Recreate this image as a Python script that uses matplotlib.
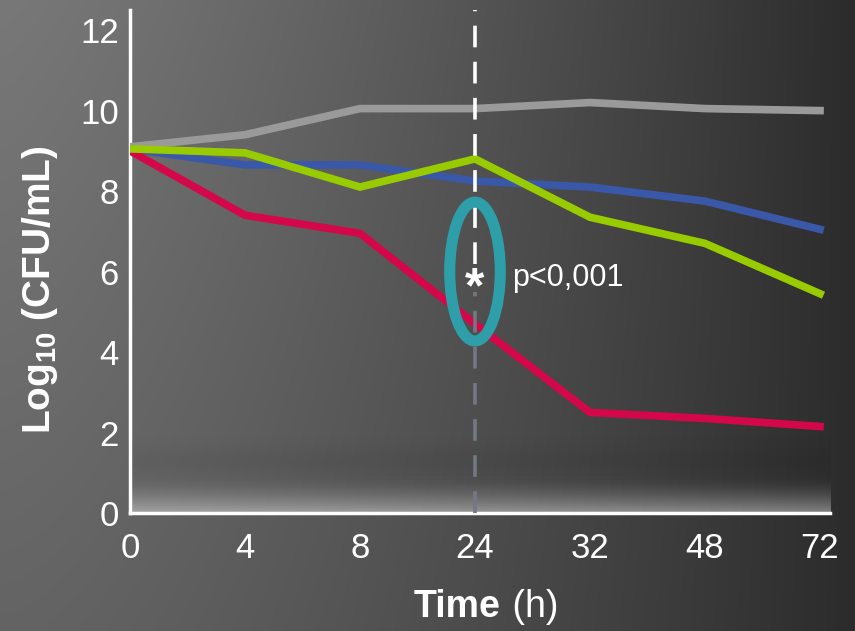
import numpy as np
import matplotlib
matplotlib.use("Agg")
import matplotlib.pyplot as plt
from matplotlib.patches import Ellipse

times = ["0", "4", "8", "24", "32", "48", "72"]
grey_series = [9.1, 9.4, 10.05, 10.05, 10.2, 10.05, 10.0]
blue_series = [9.05, 8.65, 8.65, 8.25, 8.1, 7.75, 7.05]
green_series = [9.05, 8.95, 8.1, 8.8, 7.35, 6.7, 5.45]
red_series = [9.0, 7.4, 6.95, 4.7, 2.5, 2.35, 2.15]
y_ticks = [0, 2, 4, 6, 8, 10, 12]

plt.rcParams['font.family'] = ['Liberation Sans', 'DejaVu Sans']
plt.rcParams['mathtext.fontset'] = 'custom'
plt.rcParams['mathtext.rm'] = 'Liberation Sans'
plt.rcParams['mathtext.it'] = 'Liberation Sans:italic'
plt.rcParams['mathtext.bf'] = 'Liberation Sans:bold'

W, H = 855, 631
fig = plt.figure(figsize=(W / 100, H / 100), dpi=100)

# background gradient
bg = fig.add_axes([0, 0, 1, 1], zorder=0)
xx = np.linspace(0, 1, 300)
yy = np.linspace(0, 1, 300)
X, Y = np.meshgrid(xx, yy)
val = 0.47 - 0.30 * X**1.3 - 0.08 * Y * (1 - X)
img = np.dstack([val, val, val])
bg.imshow(img, extent=(0, 1, 0, 1), aspect='auto', origin='upper')
bg.axis('off')

ax = fig.add_axes([130 / W, 1 - 513 / H, 700 / W, 503 / H], zorder=1)
ax.patch.set_alpha(0)

xs = np.arange(len(times))

# light band near bottom of plot area
n = 200
band = np.zeros((n, 1, 4))
for i in range(n):
    yv = 2.0 * i / (n - 1)
    if yv < 0.9:
        band[i, 0] = [1, 1, 1, 0.42 * (1 - yv / 0.9) ** 1.6]
    else:
        band[i, 0] = [0, 0, 0, 0.05 * np.exp(-((yv - 1.3) / 0.35) ** 2)]
ax.imshow(band, extent=(0, 6.087, 0, 2.0), origin='lower', aspect='auto', zorder=0.5)
ax.set_xlim(0, 6.087)
ax.set_ylim(0, 12.5)

lw = 5.5
ax.plot(xs, grey_series, color='#9a9a9a', lw=lw, solid_joinstyle='miter', zorder=3)
ax.plot(xs, blue_series, color='#3a58a8', lw=lw, solid_joinstyle='miter', zorder=3)
ax.plot(xs, red_series, color='#d4074a', lw=lw, solid_joinstyle='miter', zorder=4)
ax.plot(xs, green_series, color='#99cc00', lw=lw, solid_joinstyle='miter', zorder=5)

# dashed vertical line at 24 h
ax.plot([3, 3], [6.2, 12.5], color='white', lw=2.6, dashes=(6, 4), zorder=6)
ax.plot([3, 3], [0, 5.5], color='#727884', lw=2.6, dashes=(6, 4), zorder=6)

ell = Ellipse((3, 6.0), 0.44, 3.45, fill=False, edgecolor='#2e9ea8', lw=8, zorder=7)
ax.add_patch(ell)
ax.text(3, 5.55, '*', color='white', fontsize=36, fontweight='bold', ha='center', va='center', zorder=8)
ax.text(3.32, 5.85, 'p<0,001', color='white', fontsize=22, ha='left', va='center', zorder=8)

for s in ['top', 'right']:
    ax.spines[s].set_visible(False)
for s in ['left', 'bottom']:
    ax.spines[s].set_color('white')
    ax.spines[s].set_linewidth(2.5)

ax.set_xticks(xs)
ax.set_xticklabels(times)
ax.set_yticks(y_ticks)
ax.tick_params(axis='both', length=0, colors='white', labelsize=25)
ax.tick_params(axis='x', pad=14)
ax.tick_params(axis='y', pad=8)

fig.text(40 / W, 1 - 290 / H, r'Log$_{\mathregular{10}}$ (CFU/mL)', color='white', fontsize=28,
         fontweight='bold', rotation=90, ha='center', va='center')
fig.text(500 / W, 1 - 607 / H, 'Time', color='white', fontsize=27, fontweight='bold',
         ha='right', va='center')
fig.text(502 / W, 1 - 607 / H, ' (h)', color='white', fontsize=27, ha='left', va='center')

fig.savefig('out.png', dpi=100)
